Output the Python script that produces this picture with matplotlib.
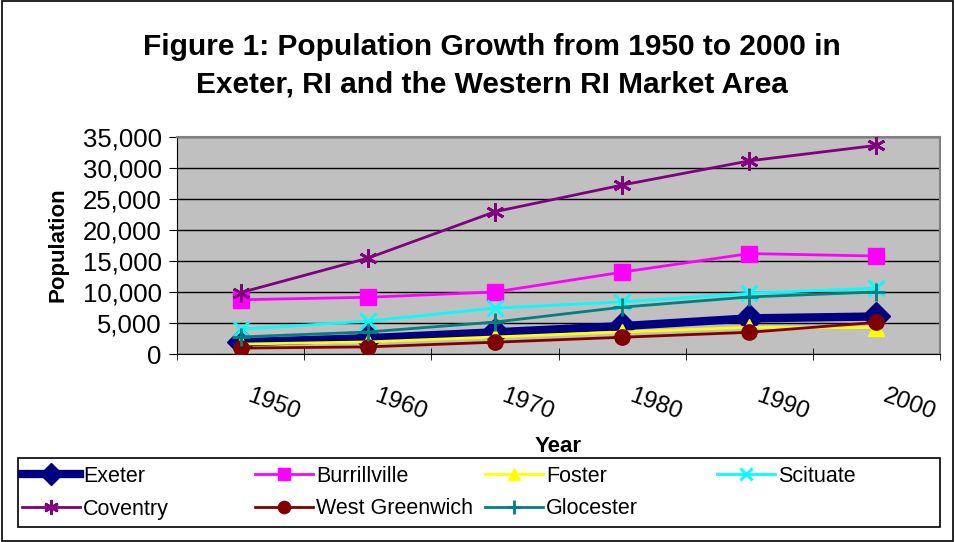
import numpy as np
import matplotlib
matplotlib.use('Agg')
import matplotlib.pyplot as plt
import matplotlib.transforms as mtransforms
from matplotlib.ticker import FuncFormatter

plt.rcParams['font.family'] = ['Liberation Sans', 'DejaVu Sans']

# 데이터
years = ['1950', '1960', '1970', '1980', '1990', '2000']
exeter = [1900, 2550, 3500, 4500, 5750, 6050]
burrillville = [8750, 9150, 10000, 13200, 16200, 15800]
foster = [1600, 1950, 2750, 3550, 4300, 4250]
scituate = [4000, 5300, 7400, 8400, 9800, 10600]
coventry = [9900, 15450, 22950, 27250, 31150, 33650]
west_greenwich = [950, 1150, 1900, 2700, 3500, 5100]
glocester = [2750, 3550, 5150, 7550, 9200, 10000]

series = [
    ('Exeter', exeter, dict(color='#000080', lw=6, marker='D', ms=14)),
    ('Burrillville', burrillville, dict(color='#FF00FF', lw=2, marker='s', ms=11)),
    ('Foster', foster, dict(color='#FFFF00', lw=2, marker='^', ms=11)),
    ('Scituate', scituate, dict(color='#00FFFF', lw=2, marker='x', ms=11, mew=2)),
    ('Coventry', coventry, dict(color='#800080', lw=2, marker=(6, 2, 0), ms=13, mew=2)),
    ('West Greenwich', west_greenwich, dict(color='#800000', lw=2, marker='o', ms=11)),
    ('Glocester', glocester, dict(color='#008080', lw=2, marker='+', ms=13, mew=2)),
]

fig = plt.figure(figsize=(9.55, 5.42), dpi=100)
fig.patches.append(plt.Rectangle((0.002, 0.002), 0.996, 0.996, transform=fig.transFigure,
                                 fill=False, edgecolor='black', lw=1.2))

ax = fig.add_axes([177/955, 1 - 354/542, 763/955, 217/542])
ax.set_facecolor('#C0C0C0')

x = np.arange(len(years))
handles = {}
for name, vals, st in series:
    h, = ax.plot(x, vals, label=name, color=st['color'], lw=st['lw'], marker=st['marker'],
                 markersize=st['ms'], markeredgewidth=st.get('mew', 1),
                 markeredgecolor=st['color'], markerfacecolor=st['color'], zorder=3)
    handles[name] = h

ax.set_xlim(-0.5, 5.5)
ax.set_ylim(0, 35000)
ax.set_yticks(np.arange(0, 35001, 5000))
ax.yaxis.set_major_formatter(FuncFormatter(lambda v, p: f'{int(v):,}'))
ax.grid(axis='y', color='black', lw=1)
ax.set_axisbelow(True)

# x축 눈금: 경계에 틱, 가운데에 라벨
ax.set_xticks(np.arange(-0.5, 5.6, 1), minor=True)
ax.set_xticks(x)
ax.set_xticklabels(years, rotation=-20, fontsize=17.5)
ax.tick_params(axis='x', which='major', length=0, pad=22)
ax.tick_params(axis='x', which='minor', length=8, direction='inout')
ax.tick_params(axis='y', labelsize=18.5, length=6, direction='out', pad=5)
offset = mtransforms.ScaledTranslation(0.33, 0, fig.dpi_scale_trans)
for lab in ax.get_xticklabels():
    lab.set_transform(lab.get_transform() + offset)

for s in ['top', 'right']:
    ax.spines[s].set_color('#808080')
    ax.spines[s].set_linewidth(1.5)
ax.spines['left'].set_color('black')
ax.spines['bottom'].set_color('black')

fig.text(492/955, 1 - 66/542, 'Figure 1: Population Growth from 1950 to 2000 in\n'
         'Exeter, RI and the Western RI Market Area',
         ha='center', va='center', fontsize=21.5, fontweight='bold', linespacing=1.45)
fig.text(58/955, 1 - 245/542, 'Population', rotation=90, ha='center', va='center',
         fontsize=16, fontweight='bold')
fig.text(558/955, 1 - 446/542, 'Year', ha='center', va='center',
         fontsize=16, fontweight='bold')

# 범례: Excel처럼 같은 간격의 칸에 하나씩 놓는다
fig.patches.append(plt.Rectangle((18/955, 1 - 527/542), 922/955, 69/542,
                                 transform=fig.transFigure, fill=False,
                                 edgecolor='black', lw=1.2))
col_x = [22, 255, 485, 717]
row_y = [476, 509]
for i, (name, vals, st) in enumerate(series):
    r, c = divmod(i, 4)
    leg = fig.legend([handles[name]], [name], loc='center left',
                     bbox_to_anchor=(col_x[c]/955, 1 - row_y[r]/542),
                     fontsize=15.5, frameon=False, handlelength=2.7, handletextpad=0.15,
                     borderaxespad=0, borderpad=0, markerscale=0.8)

fig.savefig('out.png', dpi=100)
